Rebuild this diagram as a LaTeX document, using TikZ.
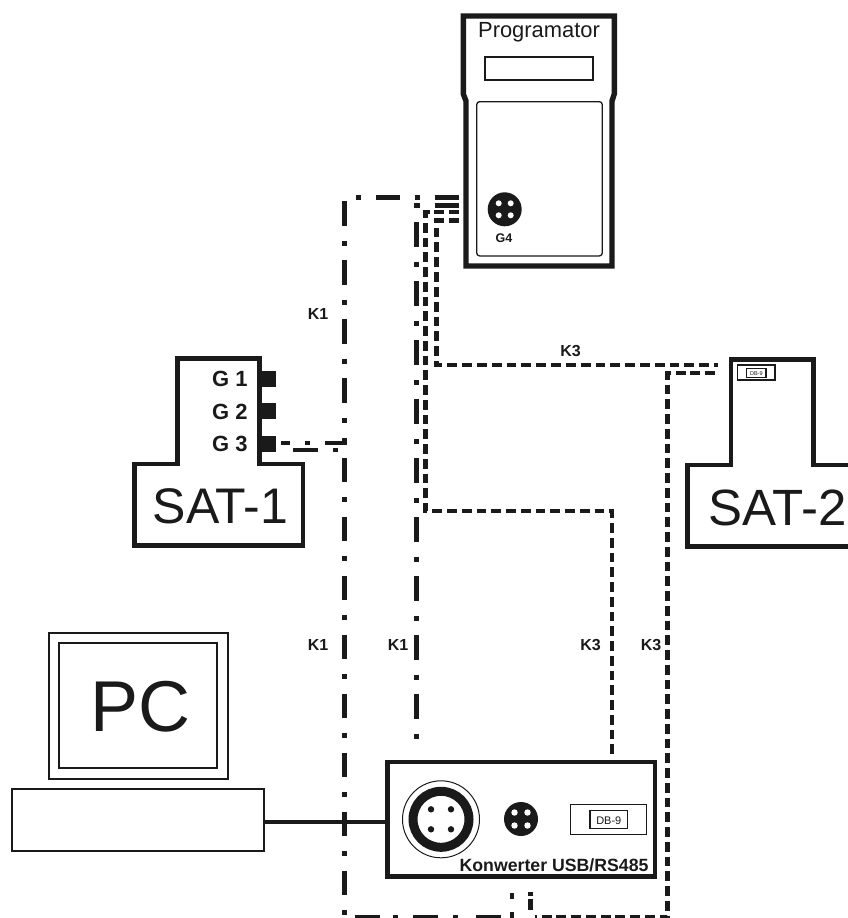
\documentclass[tikz,border=0pt]{standalone}
\usepackage{fontspec}
\usetikzlibrary{calc}
\setmainfont{Liberation Sans}
\definecolor{ink}{HTML}{1A1A1A}
\tikzset{
  outline/.style={draw=ink,line width=4.6pt,miter limit=10},
  thinbox/.style={draw=ink,line width=1.3pt,fill=none,inner sep=0pt,outer sep=0pt},
  txt/.style={inner sep=0pt,outer sep=0pt,text=ink},
  klabel/.style={txt,anchor=base,font=\fontsize{16}{16}\selectfont\bfseries},
  gblock/.style={fill=ink,draw=none,inner sep=0pt,outer sep=0pt,minimum width=14.5pt,minimum height=16pt},
  kone/.style={draw=ink,line width=4.6pt,dash pattern=on 24.5pt off 15pt on 5pt off 14.5pt},
  kthree/.style={draw=ink,line width=4.6pt,dash pattern=on 9.8pt off 4.95pt},
}
\begin{document}
\begin{tikzpicture}[x=1pt,y=-1pt]
\useasboundingbox (0,0) rectangle (848,918);
\fill[white] (0,0) rectangle (848,918);
% Programator
\draw[outline,line width=5.4pt,join=miter] (466,266) -- (466,101) -- (463.3,94) -- (463.3,16) -- (614.3,16) -- (614.3,94) -- (612,101) -- (612,266) -- cycle;
\node[thinbox,minimum width=108pt,minimum height=23pt] (display) at (539,68.5) {};
\node[thinbox,rounded corners=3pt,minimum width=125.6pt,minimum height=154.3pt] (panel) at (539.5,178.8) {};
\node[txt,anchor=base] (progt) at (539,37.3) {\fontsize{21.9}{22}\selectfont Programator};
\node[fill=ink,circle,inner sep=0pt,minimum size=34pt] (g4) at (504.7,209.3) {};
\foreach \dx/\dy in {-6/-6,6/-6,-6/6,6/6} \fill[white] ($(g4)+(\dx,\dy)$) circle (3pt);
\node[txt,anchor=base,font=\fontsize{12.5}{13}\selectfont\bfseries] (g4t) at (504,242.5) {G4};
% SAT-1
\draw[outline,join=miter] (177.3,358.3) -- (259.3,358.3) -- (259.3,464) -- (303,464) -- (303,545.7) -- (134.7,545.7) -- (134.7,464) -- (177.3,464) -- cycle;
\node[gblock] (g1) at (268.8,379) {};
\node[gblock] (g2) at (268.8,411.3) {};
\node[gblock] (g3) at (268.8,444) {};
\node[txt,anchor=base east,font=\fontsize{22}{22}\selectfont\bfseries] (g1t) at (247.5,386) {G 1};
\node[txt,anchor=base east,font=\fontsize{22}{22}\selectfont\bfseries] (g2t) at (247.5,419.3) {G 2};
\node[txt,anchor=base east,font=\fontsize{22}{22}\selectfont\bfseries] (g3t) at (247.5,451.7) {G 3};
\node[txt,anchor=base] (sat1) at (220.5,523.5) {\fontsize{50}{50}\selectfont SAT-1};
% SAT-2
\draw[outline,join=miter] (731,359.3) -- (813.3,359.3) -- (813.3,465) -- (860,465) -- (860,546.7) -- (687.7,546.7) -- (687.7,465) -- (731,465) -- cycle;
\node[txt,anchor=base] (sat2) at (777.5,525) {\fontsize{51}{51}\selectfont SAT-2};
\node[thinbox,minimum width=37.7pt,minimum height=15pt] (db9a) at (756.2,372.5) {};
\node[thinbox,line width=1.5pt,minimum width=19.3pt,minimum height=8.6pt] (db9b) at (756.3,373) {};
\node[txt,anchor=base] (db9bt) at (756.3,375.2) {\fontsize{5.5}{6}\selectfont DB-9};
% PC
\node[draw=ink,line width=2pt,inner sep=0pt,minimum width=179pt,minimum height=145.4pt] (mon) at (138.5,706) {};
\node[draw=ink,line width=2pt,inner sep=0pt,minimum width=158pt,minimum height=125pt] (screen) at (138.3,705.8) {};
\node[txt,anchor=base] (pct) at (140.5,731.7) {\fontsize{72}{72}\selectfont PC};
\node[draw=ink,line width=2pt,inner sep=0pt,minimum width=252pt,minimum height=62.6pt] (kbd) at (138.3,820) {};
% Konwerter
\node[draw=ink,line width=4.6pt,inner sep=0pt,minimum width=267.7pt,minimum height=114.7pt] (konw) at (521.2,819.35) {};
\coordinate (pcy) at (300,821.7);
\draw[ink,line width=3.6pt] (kbd.east |- pcy) -- (konw.west |- pcy);
\node[circle,draw=ink,line width=1pt,inner sep=0pt,minimum size=77pt] (bigc) at (441,819.3) {};
\node[circle,draw=ink,line width=9pt,inner sep=0pt,minimum size=56pt] (bigr) at (441,819.3) {};
\foreach \dx/\dy in {-10/-10,10/-10,-10/10,10/10} \fill[ink] ($(bigc)+(\dx,\dy)$) circle (3.2pt);
\node[fill=ink,circle,inner sep=0pt,minimum size=34pt] (smallc) at (521,819) {};
\foreach \dx/\dy in {-6.5/-6.5,6.5/-6.5,-6.5/6.5,6.5/6.5} \fill[white] ($(smallc)+(\dx,\dy)$) circle (3.2pt);
\node[thinbox,line width=1pt,minimum width=75.7pt,minimum height=30pt] (db9c) at (608.8,819.3) {};
\node[thinbox,line width=1.2pt,minimum width=37.7pt,minimum height=18pt] (db9d) at (608.8,819.7) {};
\node[txt,anchor=base] (db9dt) at (608.8,824.2) {\fontsize{11}{11}\selectfont DB-9};
\node[txt,anchor=base east,font=\fontsize{17.7}{18}\selectfont\bfseries] (konwt) at (648.5,871.7) {Konwerter USB/RS485};
% connector ends
\coordinate (pa) at (459,197.5);
\coordinate (pb) at (459,205.5);
\coordinate (pc) at (459,212);
\coordinate (pd) at (459,220.5);
\coordinate (kla) at (344.5,197.5);
\coordinate (klb) at (344.5,423);
\coordinate (g3e) at (281,443);
\coordinate (sa) at (718,365);
% K1 connectors
\draw[kone] (pa) -- (kla) -- (klb);
\draw[kone,dash pattern=on 5pt off 14.5pt on 24.5pt off 15pt] (344.5,438) -- (344.5,917.5) -- (356.5,917.5);
\draw[ink,line width=4.6pt,dash pattern=on 25pt off 13pt on 5pt off 15pt on 25pt off 15pt on 5pt off 18pt on 25pt] (355,917.5) -- (505,917.5);
\draw[ink,line width=4.6pt,dash pattern=on 6pt off 13pt on 6pt] (512,918) -- (512,893);
\draw[ink,line width=4.6pt,dash pattern=on 9pt off 15pt on 5pt off 15pt on 24.5pt] (g3e) -- (347,443);
\draw[kone,dash pattern=on 5pt off 15pt on 24.5pt off 15pt] (337.5,450) -- (293,450);
\draw[kone] (pb) -- (416.5,205.5) -- (416.5,738.5);
% K3 connectors
\draw[kthree] (pc) -- (425.5,212) -- (425.5,511) -- (612,511) -- (612,755.5);
\draw[kthree,dash pattern=on 9.8pt off 5.02pt] (pd) -- (436.5,220.5) -- (436.5,365) -- (sa);
\draw[kthree] (715,373) -- (667.5,373) -- (667.5,917.5) -- (535,917.5);
\draw[ink,line width=4.6pt,dash pattern=on 11pt off 3pt on 4pt] (530.5,910) -- (530.5,892);
% labels
\node[klabel] (k1a) at (318,319.5) {K1};
\node[klabel] (k3a) at (570.5,356) {K3};
\node[klabel] (k1b) at (318,650.5) {K1};
\node[klabel] (k1c) at (398,650.5) {K1};
\node[klabel] (k3b) at (590.5,650.5) {K3};
\node[klabel] (k3c) at (651,650.5) {K3};
\end{tikzpicture}
\end{document}
